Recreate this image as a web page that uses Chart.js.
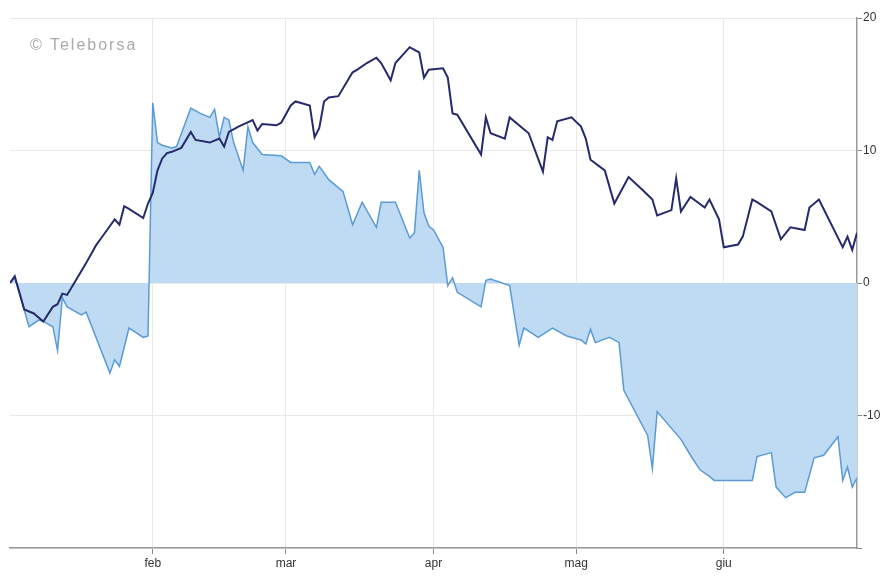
<!DOCTYPE html>
<html>
<head>
<meta charset="utf-8">
<script src="https://cdn.jsdelivr.net/npm/chart.js@4.4.1/dist/chart.umd.min.js"></script>
<style>
    html, body { margin: 0; padding: 0; background: #fff; }
    #wrap { position: relative; width: 890px; height: 578px; }
    #mark {
        position: absolute; left: 30px; top: 36px;
        font: 16px Arial, "Liberation Sans", sans-serif;
        color: #aaa; letter-spacing: 2px;
    }
</style>
</head>
<body>
<div id="wrap">
    <canvas id="perfChart"></canvas>
    <div id="mark">© Teleborsa</div>
</div>
<script>
// Month ticks (day of year)
const monthDays = [31, 59, 90, 120, 151];
const monthLabels = ["feb", "mar", "apr", "mag", "giu"];

// Stock performance (%)
const stockDays = [
    1, 2, 4, 6, 8, 10, 11, 12, 13, 15,
    17, 19, 20, 22, 23, 24, 25, 26, 29, 30,
    31, 32, 33, 34, 35, 37, 39, 40, 43, 45,
    46, 47, 49, 52, 53, 54, 57, 58, 60, 61,
    64, 65, 66, 67, 68, 70, 73, 74, 76, 78,
    79, 81, 82, 85, 86, 87, 88, 89, 92, 93,
    94, 95, 100, 101, 102, 105, 106, 110, 113, 114,
    115, 116, 119, 121, 122, 123, 126, 128, 131, 134,
    136, 137, 140, 141, 142, 144, 147, 148, 150, 151,
    154, 155, 157, 158, 161, 163, 165, 168, 169, 171,
    176, 177, 178, 179
];
const stockValues = [
    0, 0.5, -2.0, -2.3, -2.9, -1.8, -1.6, -0.8, -0.9, 0.3,
    1.5, 2.8, 3.3, 4.3, 4.8, 4.4, 5.8, 5.6, 4.9, 6.0,
    6.8, 8.5, 9.4, 9.8, 9.9, 10.2, 11.4, 10.8, 10.6, 10.9,
    10.3, 11.4, 11.8, 12.3, 11.5, 12.0, 11.9, 12.1, 13.4, 13.7,
    13.4, 11.0, 11.7, 13.7, 14.0, 14.1, 15.9, 16.1, 16.6, 17.0,
    16.6, 15.3, 16.6, 17.8, 17.6, 17.4, 15.5, 16.1, 16.2, 15.5,
    12.8, 12.7, 9.7, 12.5, 11.3, 10.9, 12.5, 11.3, 8.4, 11.0,
    10.8, 12.2, 12.5, 11.8, 10.9, 9.3, 8.5, 6.0, 8.0, 7.0,
    6.3, 5.1, 5.5, 7.9, 5.4, 6.5, 5.7, 6.3, 4.8, 2.7,
    2.9, 3.5, 6.3, 6.1, 5.4, 3.3, 4.2, 4.0, 5.7, 6.3,
    2.7, 3.5, 2.5, 3.8
];

// Relative performance (%)
const relDays = [
    1, 2, 5, 7, 8, 10, 11, 12, 13, 16,
    17, 22, 23, 24, 26, 29, 30, 31, 32, 33,
    35, 36, 39, 41, 43, 44, 45, 46, 47, 48,
    50, 51, 52, 54, 58, 60, 64, 65, 66, 67,
    68, 71, 73, 75, 78, 79, 82, 85, 86, 87,
    88, 89, 90, 92, 93, 94, 95, 100, 101, 102,
    106, 108, 109, 112, 115, 118, 121, 122, 123, 124,
    127, 129, 130, 135, 136, 137, 142, 144, 146, 148,
    149, 157, 158, 161, 162, 164, 166, 168, 170, 172,
    175, 176, 177, 178, 179
];
const relValues = [
    0, 0.45, -3.3, -2.8, -2.9, -3.3, -5.1, -1.1, -1.8, -2.4,
    -2.2, -6.8, -5.8, -6.3, -3.4, -4.1, -4.0, 13.6, 10.6, 10.4,
    10.2, 10.3, 13.2, 12.8, 12.5, 13.1, 11.0, 12.5, 12.3, 10.6,
    8.5, 11.8, 10.6, 9.7, 9.6, 9.1, 9.1, 8.2, 8.8, 8.3,
    7.8, 6.9, 4.4, 6.1, 4.2, 6.1, 6.1, 3.4, 3.8, 8.5,
    5.3, 4.3, 4.0, 2.7, -0.2, 0.4, -0.7, -1.8, 0.2, 0.3,
    -0.2, -4.7, -3.4, -4.1, -3.4, -4.0, -4.3, -4.6, -3.5, -4.5,
    -4.1, -4.5, -8.1, -11.5, -14.0, -9.7, -11.8, -13.0, -14.1, -14.6,
    -14.9, -14.9, -13.1, -12.8, -15.4, -16.2, -15.8, -15.8, -13.2, -13.0,
    -11.6, -14.9, -13.9, -15.4, -14.7
];

const toPoints = (days, values) => days.map((d, i) => ({ x: d, y: values[i] }));

const tickFont = { family: "Arial, 'Liberation Sans', sans-serif", size: 12 };

const ctx = document.getElementById("perfChart");

const chart = new Chart(ctx, {

    type: "line",

    data: {
        datasets: [{
            label: "Titolo",
            data: toPoints(stockDays, stockValues),
            borderColor: "#262a6c",
            borderWidth: 2,
            pointRadius: 0,
            tension: 0,
            fill: false
        }, {
            label: "Relativo",
            data: toPoints(relDays, relValues),
            borderColor: "#5a9bd6",
            borderWidth: 1.5,
            backgroundColor: "#bfdbf4",
            pointRadius: 0,
            tension: 0,
            fill: "origin"
        }]
    },

    options: {
        responsive: true,
        maintainAspectRatio: false,
        animation: false,
        layout: { padding: { left: 10, top: 18, right: 0, bottom: 0 } },
        plugins: {
            legend: { display: false },
            tooltip: { enabled: false }
        },
        scales: {
            x: {
                type: "linear",
                min: 1,
                max: 179,
                afterBuildTicks: axis => {
                    axis.ticks = monthDays.map(v => ({ value: v }));
                },
                afterFit: axis => { axis.height = 30; },
                ticks: {
                    color: "#333",
                    font: tickFont,
                    padding: 2,
                    maxRotation: 0,
                    callback: v => monthLabels[monthDays.indexOf(v)]
                },
                grid: {
                    color: "#e9e9e9",
                    tickColor: "#888",
                    tickLength: 6
                },
                border: { color: "#999", width: 1.5 }
            },
            y: {
                position: "right",
                min: -20,
                max: 20,
                afterFit: axis => { axis.width = 33; },
                ticks: {
                    stepSize: 10,
                    color: "#333",
                    font: tickFont,
                    padding: 1,
                    callback: v => (v === -20 ? "" : v)
                },
                grid: {
                    color: "#e9e9e9",
                    tickColor: "#888",
                    tickLength: 5
                },
                border: { color: "#999", width: 1.5 }
            }
        }
    }
});
</script>
</body>
</html>
